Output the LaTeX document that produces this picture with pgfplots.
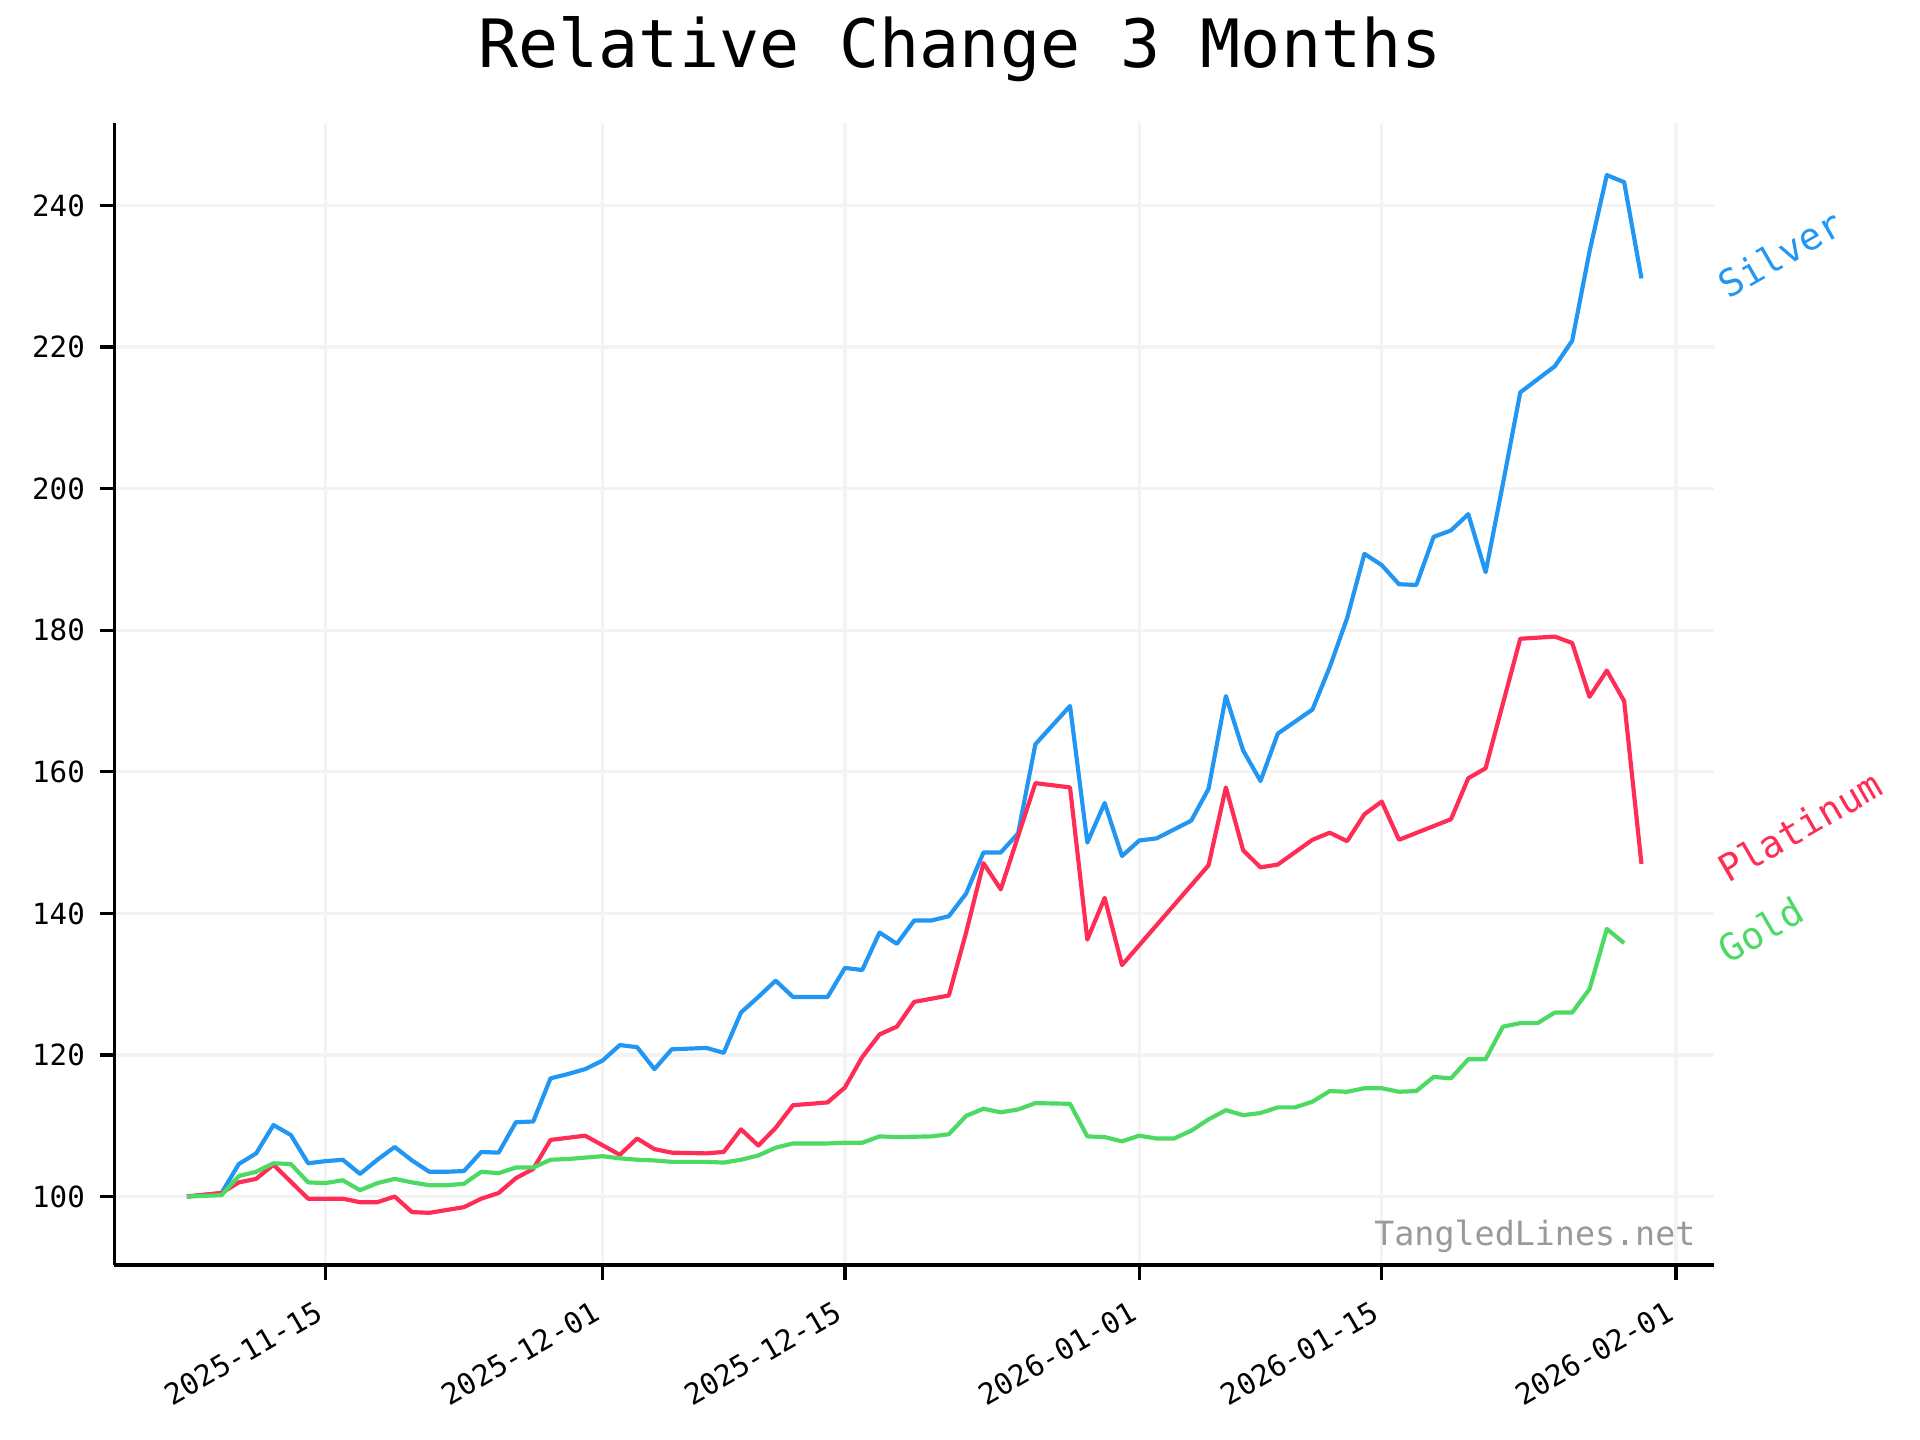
\documentclass[border=0pt]{standalone}
\usepackage{fontspec}
\setmainfont{DejaVu Sans Mono}
\usepackage{pgfplots}
\pgfplotsset{compat=1.18}
\definecolor{silverc}{RGB}{33,150,243}
\definecolor{platc}{RGB}{255,45,85}
\definecolor{goldc}{RGB}{76,217,100}
\definecolor{gridc}{RGB}{243,243,243}
\definecolor{wmc}{RGB}{153,153,153}

\pgfplotstableread{
day val
-8 100
-6 100.5
-5 104.6
-4 106.1
-3 110.1
-2 108.7
-1 104.7
0 105.0
1 105.2
2 103.2
3 105.2
4 107.0
5 105.1
6 103.5
7 103.5
8 103.6
9 106.3
10 106.2
11 110.5
12 110.6
13 116.7
14 117.3
15 118.0
16 119.2
17 121.4
18 121.1
19 118.0
20 120.8
22 121.0
23 120.3
24 126.0
25 128.2
26 130.5
27 128.2
29 128.2
30 132.3
31 132.0
32 137.3
33 135.7
34 139.0
35 139.0
36 139.6
37 142.8
38 148.6
39 148.6
40 151.3
41 163.9
43 169.3
44 150.0
45 155.6
46 148.1
47 150.3
48 150.6
50 153.1
51 157.6
52 170.7
53 163.0
54 158.7
55 165.4
57 168.8
58 174.8
59 181.7
60 190.8
61 189.2
62 186.5
63 186.4
64 193.2
65 194.1
66 196.4
67 188.2
68 200.7
69 213.6
71 217.3
72 220.9
73 233.5
74 244.3
75 243.3
76 229.7
}\silver

\pgfplotstableread{
day val
-8 100
-6 100.5
-5 102.0
-4 102.5
-3 104.5
-1 99.7
0 99.7
1 99.7
2 99.2
3 99.2
4 100.0
5 97.8
6 97.7
7 98.1
8 98.5
9 99.7
10 100.5
11 102.6
12 103.9
13 108.0
14 108.3
15 108.6
17 105.9
18 108.2
19 106.7
20 106.2
22 106.1
23 106.3
24 109.5
25 107.2
26 109.7
27 112.9
29 113.3
30 115.4
31 119.7
32 122.9
33 124.0
34 127.5
36 128.4
37 137.3
38 147.1
39 143.4
41 158.4
43 157.8
44 136.3
45 142.2
46 132.7
51 146.8
52 157.8
53 148.9
54 146.5
55 146.9
57 150.4
58 151.4
59 150.2
60 154.0
61 155.8
62 150.4
65 153.3
66 159.1
67 160.5
69 178.8
71 179.1
72 178.2
73 170.6
74 174.3
75 170.0
76 147.0
}\platinum

\pgfplotstableread{
day val
-8 100
-6 100.2
-5 102.9
-4 103.5
-3 104.7
-2 104.6
-1 102.0
0 101.9
1 102.3
2 100.9
3 101.9
4 102.5
5 102.0
6 101.6
7 101.6
8 101.8
9 103.5
10 103.3
11 104.1
12 104.1
13 105.2
14 105.3
15 105.5
16 105.7
17 105.4
18 105.2
19 105.1
20 104.9
22 104.9
23 104.8
24 105.2
25 105.8
26 106.9
27 107.5
29 107.5
30 107.6
31 107.6
32 108.5
33 108.4
35 108.5
36 108.8
37 111.4
38 112.4
39 111.9
40 112.3
41 113.2
43 113.1
44 108.5
45 108.4
46 107.8
47 108.6
48 108.2
49 108.2
50 109.3
51 110.9
52 112.2
53 111.5
54 111.8
55 112.6
56 112.6
57 113.4
58 114.9
59 114.8
60 115.3
61 115.3
62 114.8
63 114.9
64 116.9
65 116.7
66 119.4
67 119.4
68 124.0
69 124.5
70 124.5
71 126.0
72 126.0
73 129.3
74 137.8
75 135.8
}\gold

\begin{document}
\begin{tikzpicture}
\begin{axis}[name=ax, scale only axis, width=384pt, height=274.1pt,
  xmin=-12.2, xmax=80.2, ymin=90.33, ymax=251.67,
  axis x line*=bottom, axis y line*=left,
  axis line style={-, line width=0.8pt},
  xtick={0,16,30,47,61,78},
  xticklabels={2025-11-15,2025-12-01,2025-12-15,2026-01-01,2026-01-15,2026-02-01},
  ytick={100,120,...,240},
  tick align=outside, major tick length=3.5pt,
  tick style={black, line width=0.8pt},
  grid=major, major grid style={gridc, line width=0.8pt},
  ticklabel style={font=\fontsize{7}{8.5}\selectfont},
  /pgf/number format/assume math mode=true,
  /pgf/number format/1000 sep={},
  xticklabel style={xshift=-1.5pt, rotate=30, anchor=north east},
  clip=false,
]
\addplot[no markers, silverc, line width=1pt, line join=round] table[x=day,y=val] {\silver};
\addplot[no markers, platc, line width=1pt, line join=round] table[x=day,y=val] {\platinum};
\addplot[no markers, goldc, line width=1pt, line join=round] table[x=day,y=val] {\gold};
\node[rotate=30, anchor=base west, inner sep=0pt, text=silverc, font=\fontsize{9}{11}\selectfont] at (axis cs:81.0,226.6) {Silver};
\node[rotate=30, anchor=base west, inner sep=0pt, text=platc, font=\fontsize{9}{11}\selectfont] at (axis cs:81.0,144.1) {Platinum};
\node[rotate=30, anchor=base west, inner sep=0pt, text=goldc, font=\fontsize{9}{11}\selectfont] at (axis cs:81.0,132.7) {Gold};
\end{axis}
\node[anchor=base east, inner sep=0pt, text=wmc, font=\fontsize{8}{10}\selectfont] at ([xshift=-4.3pt,yshift=4.6pt]ax.south east) {TangledLines.net};
\node[anchor=base, inner sep=0pt, font=\fontsize{16}{19}\selectfont] at ([xshift=203pt,yshift=13.4pt]ax.north west) {Relative Change 3 Months};
\pgfresetboundingbox
\useasboundingbox ([xshift=-27.4pt,yshift=-42pt]ax.south west) rectangle ([xshift=49.4pt,yshift=29.5pt]ax.north east);
\end{tikzpicture}
\end{document}
